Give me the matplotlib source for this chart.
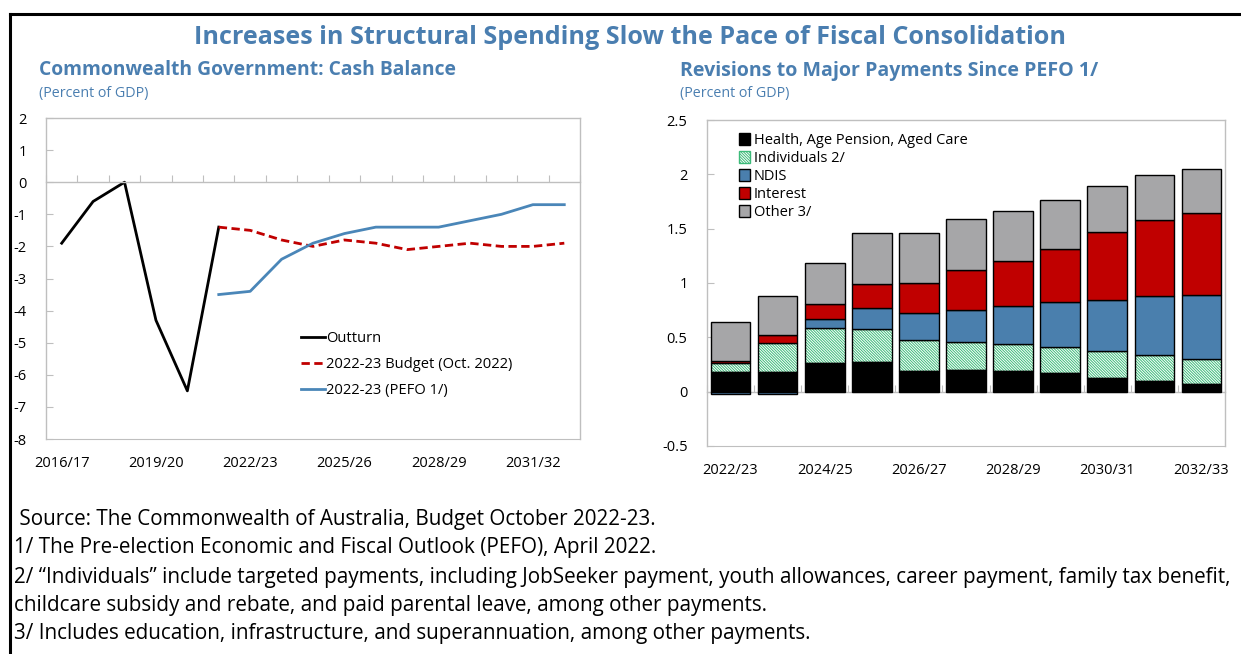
import matplotlib
matplotlib.use("Agg")
import matplotlib.pyplot as plt
from matplotlib.lines import Line2D
from matplotlib.patches import Patch
import numpy as np

plt.rcParams['font.family'] = ['Open Sans', 'DejaVu Sans']
plt.rcParams['axes.unicode_minus'] = False
plt.rcParams['hatch.linewidth'] = 0.7

BLUE_TXT = '#4a7eb0'
GRID = '#bfbfbf'
HATCH_GREEN = '#3dbb7a'
HATCH = '\\' * 12

# left panel: cash balance
years_l = ['2016/17', '2017/18', '2018/19', '2019/20', '2020/21', '2021/22',
           '2022/23', '2023/24', '2024/25', '2025/26', '2026/27', '2027/28',
           '2028/29', '2029/30', '2030/31', '2031/32', '2032/33']
outturn = [-1.9, -0.6, 0.0, -4.3, -6.5, -1.4] + [np.nan] * 11
budget = [np.nan] * 5 + [-1.4, -1.5, -1.8, -2.0, -1.8, -1.9, -2.1, -2.0, -1.9, -2.0, -2.0, -1.9]
pefo = [np.nan] * 5 + [-3.5, -3.4, -2.4, -1.9, -1.6, -1.4, -1.4, -1.4, -1.2, -1.0, -0.7, -0.7]

# right panel: revisions
years_r = ['2022/23', '2023/24', '2024/25', '2025/26', '2026/27', '2027/28',
           '2028/29', '2029/30', '2030/31', '2031/32', '2032/33']
health = [0.18, 0.18, 0.26, 0.27, 0.19, 0.20, 0.19, 0.17, 0.13, 0.10, 0.07]
individuals = [0.08, 0.265, 0.33, 0.31, 0.29, 0.26, 0.245, 0.24, 0.24, 0.235, 0.23]
ndis = [-0.025, -0.025, 0.075, 0.19, 0.24, 0.295, 0.355, 0.415, 0.475, 0.545, 0.59]
interest = [0.025, 0.075, 0.14, 0.22, 0.28, 0.365, 0.41, 0.49, 0.625, 0.70, 0.75]
other = [0.36, 0.36, 0.375, 0.47, 0.46, 0.465, 0.46, 0.445, 0.42, 0.41, 0.405]

fig = plt.figure(figsize=(12.41, 6.54), dpi=100)

# frame lines (top and left)
fig.add_artist(Line2D([0.008, 1.0], [1 - 14 / 654, 1 - 14 / 654], color='black', lw=2.2,
                      transform=fig.transFigure))
fig.add_artist(Line2D([0.008, 0.008], [0.0, 1 - 14 / 654], color='black', lw=2.2,
                      transform=fig.transFigure))

fig.text(0.508, 1 - 37 / 654, 'Increases in Structural Spending Slow the Pace of Fiscal Consolidation',
         ha='center', va='center', fontsize=18.1, fontweight='bold', color=BLUE_TXT)
fig.text(39 / 1241, 1 - 70 / 654, 'Commonwealth Government: Cash Balance',
         ha='left', va='center', fontsize=13.9, fontweight='bold', color=BLUE_TXT)
fig.text(39 / 1241, 1 - 93 / 654, '(Percent of GDP)',
         ha='left', va='center', fontsize=10.3, color=BLUE_TXT)
fig.text(680 / 1241, 1 - 71 / 654, 'Revisions to Major Payments Since PEFO 1/',
         ha='left', va='center', fontsize=14.1, fontweight='bold', color=BLUE_TXT)
fig.text(680 / 1241, 1 - 94 / 654, '(Percent of GDP)',
         ha='left', va='center', fontsize=10.3, color=BLUE_TXT)


def style_axes(ax, ymin, ymax, nlab, labels_at):
    for s in ax.spines.values():
        s.set_color(GRID)
        s.set_linewidth(1)
    ax.spines['bottom'].set_position(('data', 0))
    ax.set_ylim(ymin, ymax)
    ax.set_xlim(-0.5, nlab - 0.5)
    ax.set_xticks(np.arange(nlab + 1) - 0.5)
    ax.tick_params(axis='x', direction='in', length=5, color=GRID, labelbottom=False)
    ax.tick_params(axis='y', direction='in', length=5, color=GRID, labelsize=10.5, pad=14)
    sec = ax.secondary_xaxis('bottom')
    sec.spines['bottom'].set_color(GRID)
    sec.set_xticks(labels_at[0], labels_at[1])
    sec.tick_params(length=0, labelsize=10.5, pad=12)


# ---- left chart
ax1 = fig.add_axes([46 / 1241, 1 - 439 / 654, 534 / 1241, 321 / 654])
x_l = np.arange(len(years_l))
ax1.plot(x_l, outturn, color='black', lw=2, label='Outturn')
ax1.plot(x_l, budget, color='#c00000', lw=2, ls=(0, (3, 1.6)), label='2022-23 Budget (Oct. 2022)')
ax1.plot(x_l, pefo, color='#4a86b8', lw=2, label='2022-23 (PEFO 1/)')
lab_idx = list(range(0, len(years_l), 3))
style_axes(ax1, -8, 2, len(years_l), (lab_idx, [years_l[i] for i in lab_idx]))
ax1.set_yticks(np.arange(-8, 3, 1))
ax1.legend(loc='upper left', bbox_to_anchor=(0.467, 0.355), frameon=False, fontsize=10.6,
           handlelength=1.6, handletextpad=0.1, labelspacing=0.75, borderaxespad=0)

# ---- right chart
ax2 = fig.add_axes([707 / 1241, 1 - 446 / 654, 518 / 1241, 326 / 654])
x_r = np.arange(len(years_r))
w = 0.84
series = [('Health, Age Pension, Aged Care', health, 'black'),
          ('Individuals 2/', individuals, 'white'),
          ('NDIS', ndis, '#4a7fad'),
          ('Interest', interest, '#c00000'),
          ('Other 3/', other, '#a6a6a8')]
pos_base = np.zeros(len(years_r))
neg_base = np.zeros(len(years_r))
handles = []
for name, vals, col in series:
    vals = np.array(vals)
    base = np.where(vals >= 0, pos_base, neg_base)
    if name.startswith('Individuals'):
        ax2.bar(x_r, vals, w, bottom=base, color='white', edgecolor=HATCH_GREEN,
                hatch=HATCH, linewidth=0, zorder=2)
        ax2.bar(x_r, vals, w, bottom=base, color='none', edgecolor='black',
                linewidth=1, zorder=3)
        handles.append(Patch(facecolor='white', edgecolor=HATCH_GREEN, hatch=HATCH,
                             label=name))
    else:
        ax2.bar(x_r, vals, w, bottom=base, color=col, edgecolor='black',
                linewidth=1, zorder=3)
        handles.append(Patch(facecolor=col, edgecolor='black', linewidth=1, label=name))
    pos_base = pos_base + np.where(vals >= 0, vals, 0)
    neg_base = neg_base + np.where(vals < 0, vals, 0)

lab_idx_r = list(range(0, len(years_r), 2))
style_axes(ax2, -0.5, 2.5, len(years_r), (lab_idx_r, [years_r[i] for i in lab_idx_r]))
ax2.set_yticks(np.arange(-0.5, 2.51, 0.5))
ax2.set_yticklabels(['%g' % v for v in np.arange(-0.5, 2.51, 0.5)])
ax2.legend(handles=handles, loc='upper left', bbox_to_anchor=(0.05, 0.977), frameon=False,
           fontsize=10.5, handlelength=0.8, handleheight=0.9, handletextpad=0.25,
           labelspacing=0.2, borderaxespad=0)

# ---- notes
notes = [' Source: The Commonwealth of Australia, Budget October 2022-23.',
         '1/ The Pre-election Economic and Fiscal Outlook (PEFO), April 2022.',
         '2/ \u201cIndividuals\u201d include targeted payments, including JobSeeker payment, youth allowances, career payment, family tax benefit,',
         'childcare subsidy and rebate, and paid parental leave, among other payments.',
         '3/ Includes education, infrastructure, and superannuation, among other payments.']
note_y = [519, 548, 577, 605, 634]
for t, y in zip(notes, note_y):
    fig.text(14 / 1241, 1 - y / 654, t, ha='left', va='center', fontsize=14.9, color='black')

fig.savefig('out.png', dpi=100)
